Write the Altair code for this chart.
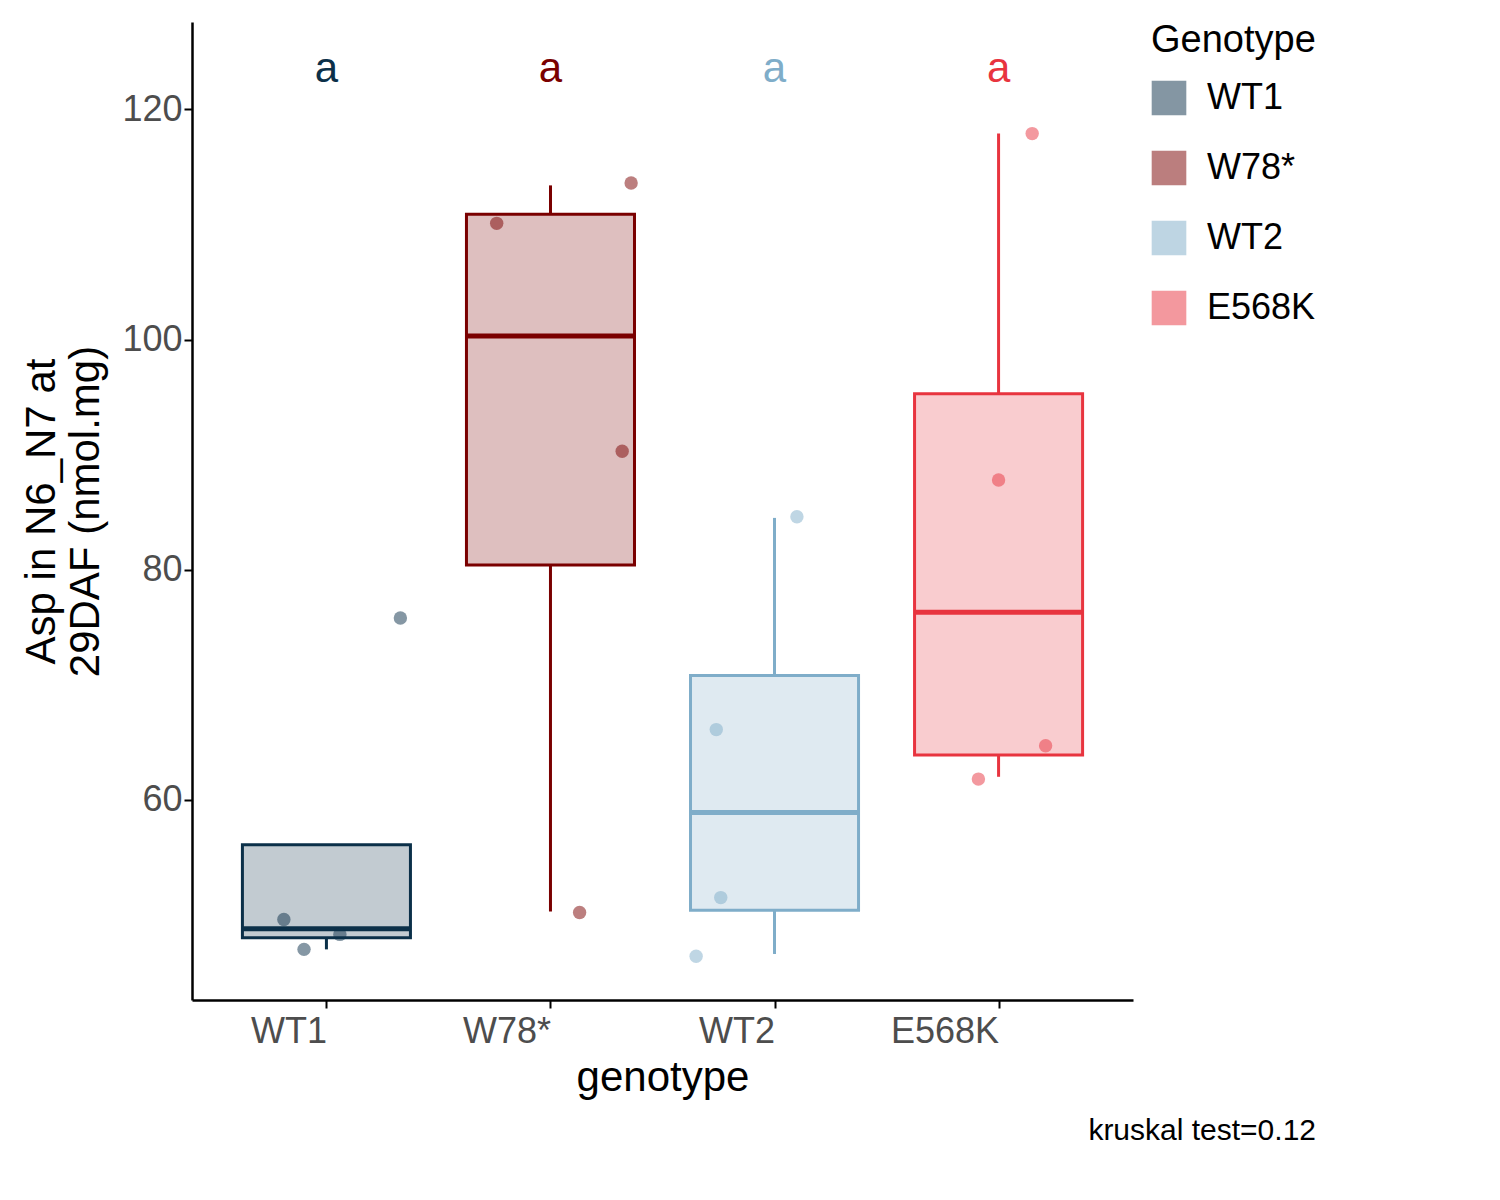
import altair as alt
import pandas as pd

genotypes = ["WT1", "W78*", "WT2", "E568K"]
colors = ["#0b3049", "#7a0000", "#7fadc9", "#e8343f"]
positions = [1, 2, 3, 4]

# box stats
q1 = [48.0, 80.4, 50.4, 63.9]
median = [48.8, 100.3, 58.9, 76.3]
q3 = [56.1, 110.9, 70.8, 95.3]
whisk_lo = [47.0, 50.3, 46.6, 62.0]
whisk_hi = [56.1, 113.4, 84.5, 117.9]

# jittered points
pt_genotype = ["WT1"] * 4 + ["W78*"] * 4 + ["WT2"] * 4 + ["E568K"] * 4
pt_value = [49.6, 47.0, 48.3, 75.8,
            110.1, 113.6, 90.3, 50.2,
            84.6, 66.1, 51.5, 46.4,
            117.9, 87.8, 61.8, 64.7]
pt_offset = [-0.19, -0.10, 0.06, 0.33,
             -0.24, 0.36, 0.32, 0.13,
             0.10, -0.26, -0.24, -0.35,
             0.15, 0.0, -0.09, 0.21]

boxes = pd.DataFrame({"genotype": genotypes, "pos": positions, "q1": q1, "median": median,
                      "q3": q3, "lo": whisk_lo, "hi": whisk_hi, "letter": ["a"] * 4,
                      "ly": [123.5] * 4})
pos_map = dict(zip(genotypes, positions))
points = pd.DataFrame({"genotype": pt_genotype, "value": pt_value,
                       "x": [pos_map[g] + o for g, o in zip(pt_genotype, pt_offset)]})

legend = alt.Legend(title="Genotype", titleFontSize=38, titleFontWeight="normal",
                    labelFontSize=36, symbolType="square", symbolSize=1000,
                    symbolStrokeWidth=3, rowPadding=26, labelOffset=20,
                    titlePadding=20, titleColor="black", labelColor="black")
cscale = alt.Scale(domain=genotypes, range=colors)
color = alt.Color("genotype:N", scale=cscale, legend=legend)

xs = alt.Scale(domain=[0.4, 4.6], nice=False, zero=False)
ys = alt.Scale(domain=[42.6, 127.6], nice=False, zero=False)

x_axis = alt.Axis(values=positions, title="genotype", grid=False,
                  labelExpr="['','WT1','W78*','WT2','E568K'][datum.value]",
                  labelAlign="right", labelFontSize=36, labelColor="#4d4d4d",
                  titleFontSize=42, titleFontWeight="normal", titleColor="black",
                  domainColor="black", domainWidth=2.5, tickColor="black", tickWidth=2,
                  tickSize=8, labelPadding=6, titlePadding=8)
y_axis = alt.Axis(values=[60, 80, 100, 120], title=["Asp in N6_N7 at", "29DAF (nmol.mg)"],
                  grid=False, labelFontSize=36, labelColor="#4d4d4d", titleFontSize=42,
                  titleFontWeight="normal", titleColor="black", domainColor="black",
                  domainWidth=2.5, tickColor="black", tickWidth=2, tickSize=8,
                  titlePadding=14)

base = alt.Chart(boxes)

lower_whisker = base.mark_rule(strokeWidth=3).encode(
    x=alt.X("pos:Q", scale=xs, axis=x_axis),
    y=alt.Y("lo:Q", scale=ys, axis=y_axis),
    y2="q1:Q",
    color=color,
)
upper_whisker = base.mark_rule(strokeWidth=3).encode(
    x=alt.X("pos:Q", scale=xs),
    y=alt.Y("q3:Q", scale=ys),
    y2="hi:Q",
    color=color,
)

rects = base.transform_calculate(
    xl="datum.pos - 0.375", xr="datum.pos + 0.375"
).mark_rect(strokeWidth=3, fillOpacity=0.25).encode(
    x=alt.X("xl:Q", scale=xs),
    x2="xr:Q",
    y=alt.Y("q1:Q", scale=ys),
    y2="q3:Q",
    fill=alt.Color("genotype:N", scale=cscale, legend=legend),
    stroke=alt.Color("genotype:N", scale=cscale, legend=legend),
)

medians = base.transform_calculate(
    xl="datum.pos - 0.375", xr="datum.pos + 0.375"
).mark_rule(strokeWidth=5).encode(
    x=alt.X("xl:Q", scale=xs), x2="xr:Q",
    y=alt.Y("median:Q", scale=ys),
    color=color,
)

dots = alt.Chart(points).mark_circle(size=180, opacity=0.5).encode(
    x=alt.X("x:Q", scale=xs),
    y=alt.Y("value:Q", scale=ys),
    color=color,
)

letters = base.mark_text(fontSize=42, font="Liberation Sans").encode(
    x=alt.X("pos:Q", scale=xs),
    y=alt.Y("ly:Q", scale=ys),
    text="letter:N",
    color=color,
)

chart = alt.layer(lower_whisker, upper_whisker, rects, medians, dots, letters).properties(
    width=941, height=978,
    padding={"left": 12, "top": 14, "right": 5, "bottom": 5},
    title=alt.TitleParams("kruskal test=0.12", orient="bottom", anchor="end",
                          fontSize=30, fontWeight="normal", color="black", offset=18),
).configure(font="Liberation Sans").configure_view(stroke=None)

chart.save("out.html", embed_options={"renderer": "svg", "actions": False})
